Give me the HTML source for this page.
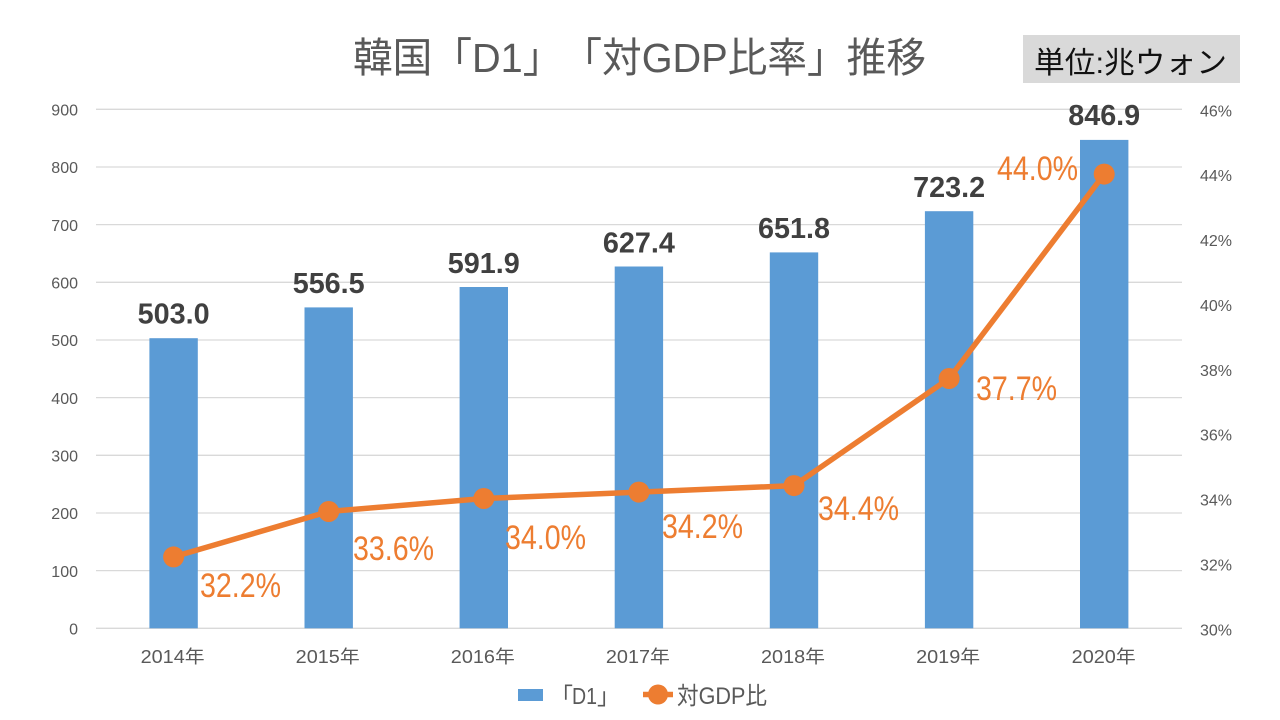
<!DOCTYPE html>
<html>
<head>
<meta charset="utf-8">
<style>
html,body{margin:0;padding:0;background:#fff;}
svg{display:block;}
text{font-family:"Liberation Sans","Noto Sans CJK JP",sans-serif;text-spacing-trim:space-all;}
</style>
</head>
<body>
<svg width="1280" height="720" viewBox="0 0 1280 720" xmlns="http://www.w3.org/2000/svg">
<rect x="0" y="0" width="1280" height="720" fill="#ffffff"/>

<!-- Title -->
<text x="353" y="72" font-size="41" fill="#595959" textLength="573" lengthAdjust="spacingAndGlyphs">韓国「D1」「対GDP比率」推移</text>

<!-- Unit box -->
<rect x="1023" y="35" width="217" height="48" fill="#d9d9d9"/>
<text x="1034" y="73" font-size="30" fill="#111111" textLength="193" lengthAdjust="spacingAndGlyphs">単位:兆ウォン</text>

<!-- Gridlines -->
<g stroke="#d9d9d9" stroke-width="1.3">
<line x1="96" y1="109.3" x2="1182" y2="109.3"/>
<line x1="96" y1="167.0" x2="1182" y2="167.0"/>
<line x1="96" y1="224.6" x2="1182" y2="224.6"/>
<line x1="96" y1="282.3" x2="1182" y2="282.3"/>
<line x1="96" y1="340.0" x2="1182" y2="340.0"/>
<line x1="96" y1="397.6" x2="1182" y2="397.6"/>
<line x1="96" y1="455.3" x2="1182" y2="455.3"/>
<line x1="96" y1="513.0" x2="1182" y2="513.0"/>
<line x1="96" y1="570.6" x2="1182" y2="570.6"/>
<line x1="96" y1="628.3" x2="1182" y2="628.3"/>
</g>

<!-- Left axis labels -->
<g font-size="16" fill="#595959" text-anchor="end">
<text x="78" y="115.5">900</text>
<text x="78" y="173.2">800</text>
<text x="78" y="230.8">700</text>
<text x="78" y="288.5">600</text>
<text x="78" y="346.2">500</text>
<text x="78" y="403.8">400</text>
<text x="78" y="461.5">300</text>
<text x="78" y="519.2">200</text>
<text x="78" y="576.8">100</text>
<text x="78" y="634.5">0</text>
</g>

<!-- Right axis labels -->
<g font-size="16" fill="#595959">
<text x="1200" y="116.3">46%</text>
<text x="1200" y="181.2">44%</text>
<text x="1200" y="246.1">42%</text>
<text x="1200" y="311.0">40%</text>
<text x="1200" y="375.8">38%</text>
<text x="1200" y="440.7">36%</text>
<text x="1200" y="505.6">34%</text>
<text x="1200" y="570.5">32%</text>
<text x="1200" y="635.3">30%</text>
</g>

<!-- Bars -->
<g fill="#5b9bd5">
<rect x="149.4" y="338.2" width="48.4" height="290.1"/>
<rect x="304.5" y="307.4" width="48.4" height="320.9"/>
<rect x="459.6" y="287.0" width="48.4" height="341.3"/>
<rect x="614.7" y="266.5" width="48.4" height="361.8"/>
<rect x="769.8" y="252.4" width="48.4" height="375.9"/>
<rect x="924.9" y="211.2" width="48.4" height="417.1"/>
<rect x="1080.0" y="139.9" width="48.4" height="488.4"/>
</g>

<!-- Bar labels -->
<g font-size="29" font-weight="bold" fill="#404040" text-anchor="middle">
<text x="173.6" y="323.5" textLength="72" lengthAdjust="spacingAndGlyphs">503.0</text>
<text x="328.7" y="293.2" textLength="72" lengthAdjust="spacingAndGlyphs">556.5</text>
<text x="483.8" y="273.0" textLength="72" lengthAdjust="spacingAndGlyphs">591.9</text>
<text x="638.9" y="252.3" textLength="72" lengthAdjust="spacingAndGlyphs">627.4</text>
<text x="794.0" y="238.2" textLength="72" lengthAdjust="spacingAndGlyphs">651.8</text>
<text x="949.1" y="196.8" textLength="72" lengthAdjust="spacingAndGlyphs">723.2</text>
<text x="1104.2" y="125.2" textLength="72" lengthAdjust="spacingAndGlyphs">846.9</text>
</g>

<!-- Line -->
<polyline fill="none" stroke="#ed7d31" stroke-width="5.5" stroke-linejoin="round" stroke-linecap="round"
 points="173.6,556.9 328.7,511.5 483.8,498.5 638.9,492.1 794.0,485.6 949.1,378.5 1104.2,174.1"/>
<g fill="#ed7d31">
<circle cx="173.6" cy="556.9" r="10.5"/>
<circle cx="328.7" cy="511.5" r="10.5"/>
<circle cx="483.8" cy="498.5" r="10.5"/>
<circle cx="638.9" cy="492.1" r="10.5"/>
<circle cx="794.0" cy="485.6" r="10.5"/>
<circle cx="949.1" cy="378.5" r="10.5"/>
<circle cx="1104.2" cy="174.1" r="10.5"/>
</g>

<!-- Line labels -->
<g font-size="34" fill="#ed7d31">
<text x="200" y="597" textLength="81" lengthAdjust="spacingAndGlyphs">32.2%</text>
<text x="353" y="560" textLength="81" lengthAdjust="spacingAndGlyphs">33.6%</text>
<text x="505" y="549" textLength="81" lengthAdjust="spacingAndGlyphs">34.0%</text>
<text x="662" y="538" textLength="81" lengthAdjust="spacingAndGlyphs">34.2%</text>
<text x="818" y="520" textLength="81" lengthAdjust="spacingAndGlyphs">34.4%</text>
<text x="976" y="400" textLength="81" lengthAdjust="spacingAndGlyphs">37.7%</text>
<text x="997" y="180" textLength="81" lengthAdjust="spacingAndGlyphs">44.0%</text>
</g>

<!-- X axis labels -->
<g font-size="18" fill="#595959" text-anchor="middle">
<text x="172.6" y="663" textLength="64" lengthAdjust="spacingAndGlyphs">2014年</text>
<text x="327.7" y="663" textLength="64" lengthAdjust="spacingAndGlyphs">2015年</text>
<text x="482.8" y="663" textLength="64" lengthAdjust="spacingAndGlyphs">2016年</text>
<text x="637.9" y="663" textLength="64" lengthAdjust="spacingAndGlyphs">2017年</text>
<text x="793.0" y="663" textLength="64" lengthAdjust="spacingAndGlyphs">2018年</text>
<text x="948.1" y="663" textLength="64" lengthAdjust="spacingAndGlyphs">2019年</text>
<text x="1103.7" y="663" textLength="64" lengthAdjust="spacingAndGlyphs">2020年</text>
</g>

<!-- Legend -->
<rect x="518" y="689" width="25" height="12" fill="#5b9bd5"/>
<g font-size="23" fill="#595959">
<text x="550" y="704">「</text>
<text x="572" y="704" textLength="25" lengthAdjust="spacingAndGlyphs">D1</text>
<text x="597" y="704">」</text>
</g>
<line x1="643" y1="694.5" x2="673" y2="694.5" stroke="#ed7d31" stroke-width="5.5"/>
<circle cx="658" cy="694.5" r="10" fill="#ed7d31"/>
<text x="677" y="704" font-size="24" fill="#595959" textLength="90" lengthAdjust="spacingAndGlyphs">対GDP比</text>
</svg>
</body>
</html>
